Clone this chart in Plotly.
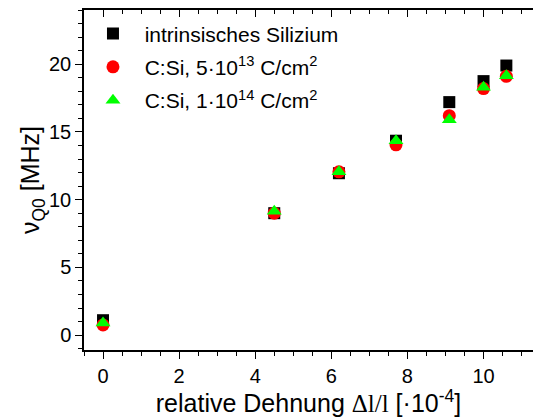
import plotly.graph_objects as go

# Relative strain (units of 1e-4) and quadrupole frequency nu_Q0 in MHz
strain = [0.0, 4.5, 6.2, 7.7, 9.1, 10.0, 10.6]
nu_intrinsic = [1.1, 9.0, 11.95, 14.35, 17.2, 18.75, 19.9]
nu_csi_5e13 = [0.75, 9.0, 12.05, 14.05, 16.2, 18.2, 19.1]
nu_csi_1e14 = [0.9, 9.15, 12.05, 14.35, 15.9, 18.3, 19.15]

series = [
    ("intrinsisches Silizium", nu_intrinsic, "square", "#000000", 12),
    ("C:Si, 5·10<sup>13</sup> C/cm<sup>2</sup>", nu_csi_5e13, "circle", "#ff0000", 13),
    ("C:Si, 1·10<sup>14</sup> C/cm<sup>2</sup>", nu_csi_1e14, "triangle-up", "#00ff00", 13),
]

fig = go.Figure()
for i, (name, vals, sym, col, size) in enumerate(series):
    fig.add_trace(go.Scatter(
        x=strain, y=vals, mode="markers", name="&nbsp;&nbsp;" + name, legendgroup=f"g{i}",
        marker=dict(symbol=sym, color=col, size=size, line=dict(width=0)),
    ))

# invisible trace to carry the top (mirrored) axis with inward ticks
fig.add_trace(go.Scatter(x=[0], y=[0], xaxis="x2", mode="markers",
                         marker=dict(opacity=0), showlegend=False, hoverinfo="skip"))

font_family = "Liberation Sans, Arial, sans-serif"
xrange = [-0.5, 11.3]

fig.update_layout(
    width=533, height=417,
    margin=dict(l=84, r=0, t=10, b=67),
    paper_bgcolor="white", plot_bgcolor="white",
    font=dict(family=font_family, color="black", size=20),
    showlegend=True,
    legend=dict(x=0.02, y=0.99, xanchor="left", yanchor="top",
                font=dict(size=21), bgcolor="rgba(0,0,0,0)",
                tracegroupgap=3, itemsizing="trace"),
    xaxis=dict(
        range=xrange, showgrid=False, zeroline=False,
        showline=True, linecolor="black", linewidth=1.5,
        ticks="outside", ticklen=7, tickwidth=1.2, tickcolor="black",
        tick0=0, dtick=2,
        minor=dict(ticks="outside", ticklen=4, dtick=0.5, tickcolor="black", tickwidth=1),
        tickfont=dict(size=20),
        title=dict(text="relative Dehnung <span style='font-family:Liberation Serif'>Δl/l</span> [·10<sup>-4</sup>]",
                   font=dict(size=25), standoff=2),
    ),
    xaxis2=dict(
        range=xrange, overlaying="x", side="top", showgrid=False, zeroline=False,
        showline=True, linecolor="black", linewidth=1.5,
        ticks="inside", ticklen=7, tickwidth=1.2, tickcolor="black",
        tick0=0, dtick=2, showticklabels=False,
        minor=dict(ticks="inside", ticklen=4, dtick=0.5, tickcolor="black", tickwidth=1),
    ),
    yaxis=dict(
        range=[-1.1, 24], showgrid=False, zeroline=False,
        showline=True, linecolor="black", linewidth=1.5,
        ticks="outside", ticklen=7, tickwidth=1.2, tickcolor="black",
        tick0=0, dtick=5,
        minor=dict(ticks="outside", ticklen=4, dtick=1, tickcolor="black", tickwidth=1),
        tickfont=dict(size=20),
        title=dict(text="ν<sub>Q0</sub> [MHz]", font=dict(size=25), standoff=2),
    ),
)

fig.write_html("out.html")
